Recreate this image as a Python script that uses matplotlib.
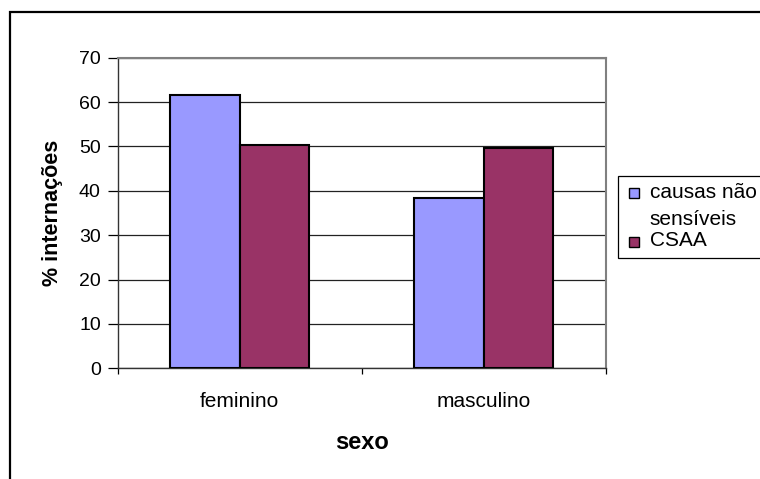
import numpy as np
import matplotlib
matplotlib.use("Agg")
import matplotlib.pyplot as plt
from matplotlib.patches import Rectangle

plt.rcParams['font.family'] = ['Liberation Sans', 'DejaVu Sans']

categories = ["feminino", "masculino"]
series_names = ["causas não sensíveis", "CSAA"]
nao_sensiveis = [61.7, 38.3]
csaa = [50.4, 49.6]
colors = ["#9999FF", "#993366"]
yticks = [0, 10, 20, 30, 40, 50, 60, 70]

W, H = 760, 479
fig = plt.figure(figsize=(W / 100, H / 100), dpi=100)
ax = fig.add_axes([117.5 / W, 1 - 368.3 / H, (605.7 - 117.5) / W, (368.3 - 57.7) / H])

x = np.arange(len(categories))
bw = 1 / 3.5  # excel gap width 150%
for i, (vals, c) in enumerate(zip([nao_sensiveis, csaa], colors)):
    ax.bar(x + (i - 0.5) * bw, vals, bw, color=c, edgecolor="black", linewidth=1.5, zorder=3)

ax.set_xlim(-0.5, len(categories) - 0.5)
ax.set_ylim(0, 70)
ax.set_yticks(yticks)
ax.yaxis.grid(True, color="#222222", linewidth=0.9, zorder=0)
ax.tick_params(axis="y", direction="out", length=7, width=0.9, labelsize=14, pad=5)

# category boundaries get the tick marks, labels sit in the middle
ax.set_xticks([-0.5, 0.5, 1.5])
ax.set_xticklabels([])
ax.set_xticks(x, minor=True)
ax.set_xticklabels(categories, minor=True, fontsize=15)
ax.tick_params(axis="x", which="major", direction="out", length=4.5, width=0.9)
ax.tick_params(axis="x", which="minor", length=0, pad=17)

for s in ["top", "right"]:
    ax.spines[s].set_color("#808080")
    ax.spines[s].set_linewidth(1.5)
for s in ["left", "bottom"]:
    ax.spines[s].set_color("#333333")
    ax.spines[s].set_linewidth(1.0)

fig.text(53 / W, 1 - 213 / H, "% internações", rotation=90, fontsize=15.5, fontweight="bold",
         ha="center", va="center")
fig.text(362 / W, 1 - 442.7 / H, "sexo", fontsize=17, fontweight="bold", ha="center", va="center")

# outer chart frame (only top and left edges fall inside the picture)
fig.patches.append(Rectangle((10 / W, -0.1), 1.2, 1 - 12.3 / H + 0.1, transform=fig.transFigure,
                             fill=False, edgecolor="black", linewidth=1.6))

# legend
fig.patches.append(Rectangle((617.7 / W, 1 - 258.3 / H), 0.3, (258.3 - 176) / H, transform=fig.transFigure,
                             facecolor="white", edgecolor="black", linewidth=0.9))
sq = 10
for c, top in zip(colors, [188.3, 236.5]):
    fig.patches.append(Rectangle((628.7 / W, 1 - (top + sq) / H), sq / W, sq / H,
                                 transform=fig.transFigure, facecolor=c, edgecolor="black", linewidth=1.0))
first, second = series_names[0].rsplit(" ", 1)
fig.text(649.7 / W, 1 - 198.3 / H, first, fontsize=15, ha="left", va="baseline")
fig.text(649.7 / W, 1 - 225 / H, second, fontsize=15, ha="left", va="baseline")
fig.text(649.7 / W, 1 - 246 / H, series_names[1], fontsize=15, ha="left", va="baseline")

fig.savefig("out.png", dpi=100)
